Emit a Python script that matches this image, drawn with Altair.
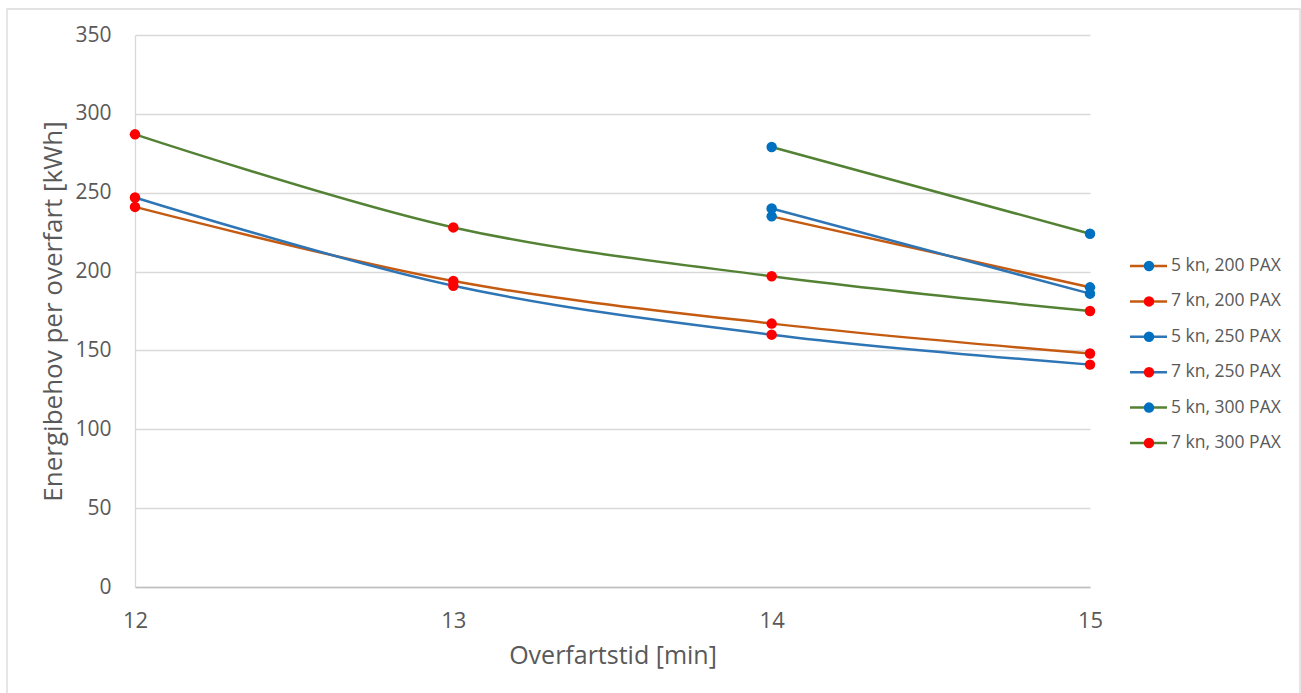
import altair as alt
import pandas as pd

series_names = ["5 kn, 200 PAX", "7 kn, 200 PAX", "5 kn, 250 PAX",
                "7 kn, 250 PAX", "5 kn, 300 PAX", "7 kn, 300 PAX"]
overfartstid = [12, 13, 14, 15]
v_5kn_200 = [None, None, 235, 190]
v_7kn_200 = [241, 194, 167, 148]
v_5kn_250 = [None, None, 240, 186]
v_7kn_250 = [247, 191, 160, 141]
v_5kn_300 = [None, None, 279, 224]
v_7kn_300 = [287, 228, 197, 175]
line_colors = ["#C55A11", "#C55A11", "#2E75B6", "#2E75B6", "#548235", "#548235"]
marker_colors = ["#0070C0", "#FF0000", "#0070C0", "#FF0000", "#0070C0", "#FF0000"]

all_vals = [v_5kn_200, v_7kn_200, v_5kn_250, v_7kn_250, v_5kn_300, v_7kn_300]
rows = []
for i, (name, vals) in enumerate(zip(series_names, all_vals)):
    for x, v in zip(overfartstid, vals):
        if v is not None:
            rows.append({"series": name, "order": i, "tid": x, "energi": v})
df = pd.DataFrame(rows)
leg = pd.DataFrame({"series": series_names, "idx": list(range(len(series_names)))})

W, H = 955, 552
TXT = "#595959"
FONT = "Open Sans"

color_scale = alt.Scale(domain=series_names, range=line_colors)
fill_scale = alt.Scale(domain=series_names, range=marker_colors)
yscale = alt.Scale(domain=[0, 350], nice=False)
xscale = alt.Scale(domain=[12, 15], nice=False, zero=False)

base = alt.Chart(df)

lines = base.mark_line(strokeWidth=2.5, interpolate="catmull-rom").encode(
    x=alt.X("tid:Q", scale=xscale, title="Overfartstid [min]",
            axis=alt.Axis(values=overfartstid, format="d", grid=False, ticks=False,
                          labelFlush=False,
                          domainColor="#BFBFBF", domainWidth=1.3, labelPadding=23,
                          labelFontSize=22, labelColor=TXT, labelFont=FONT,
                          titleFontSize=25, titleColor=TXT, titleFont=FONT,
                          titleFontWeight="normal", titlePadding=12)),
    y=alt.Y("energi:Q", scale=yscale, title="Energibehov per overfart [kWh]",
            axis=alt.Axis(values=list(range(0, 351, 50)), grid=True, gridColor="#D9D9D9",
                          gridWidth=1.3, ticks=False, domainColor="#D9D9D9",
                          domainWidth=1.3, labelPadding=24, labelFontSize=21,
                          labelColor=TXT, labelFont=FONT, titleFontSize=26,
                          titleColor=TXT, titleFont=FONT, titleFontWeight="normal",
                          titlePadding=8)),
    color=alt.Color("series:N", scale=color_scale, legend=None),
    detail="series:N",
    order="tid:Q",
)

points = base.mark_point(filled=True, size=110, opacity=1, shape="circle").encode(
    x=alt.X("tid:Q", scale=xscale),
    y=alt.Y("energi:Q", scale=yscale, axis=None),
    fill=alt.Fill("series:N", scale=fill_scale, legend=None),
)

d0 = -231 / 35.4
d1 = d0 + H / 35.4
lscale = alt.Scale(domain=[d0, d1], reverse=True, nice=False, zero=False)
lbase = alt.Chart(leg)
leg_rule = lbase.mark_rule(strokeWidth=2.5).encode(
    x=alt.value(995), x2=alt.value(1032),
    y=alt.Y("idx:Q", scale=lscale, axis=None),
    color=alt.Color("series:N", scale=color_scale, legend=None),
)
leg_pt = lbase.mark_point(filled=True, size=110, opacity=1, shape="circle").encode(
    x=alt.value(1014),
    y=alt.Y("idx:Q", scale=lscale, axis=None),
    fill=alt.Fill("series:N", scale=fill_scale, legend=None),
)
leg_txt = lbase.mark_text(align="left", baseline="middle", fontSize=17.5,
                          color=TXT, font=FONT).encode(
    x=alt.value(1036),
    y=alt.Y("idx:Q", scale=lscale, axis=None),
    text="series:N",
)

border = alt.Chart(pd.DataFrame({"a": [0]})).mark_rect(
    fill=None, stroke="#D9D9D9", strokeWidth=1.3).encode(
    x=alt.value(7 - 135), x2=alt.value(1300 - 135),
    y=alt.value(9 - 35), y2=alt.value(720 - 35),
)

chart = alt.layer(border, lines, points, leg_rule, leg_pt, leg_txt).resolve_scale(
    y="independent"
).properties(
    width=W, height=H,
    autosize=alt.AutoSizeParams(type="none"),
    padding={"left": 135, "top": 35, "right": 1301 - 135 - W, "bottom": 693 - 35 - H},
    background="white",
).configure_view(stroke=None)

chart.save("out.html", embed_options={"renderer": "svg", "actions": False})
